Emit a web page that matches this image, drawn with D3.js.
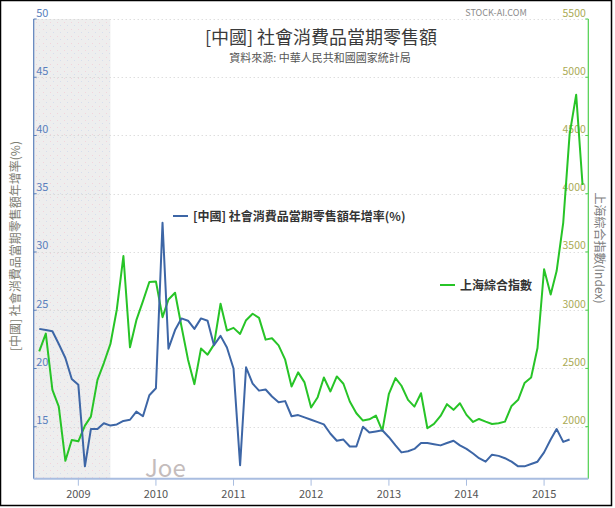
<!DOCTYPE html>
<html>
<head>
<meta charset="utf-8">
<script src="https://cdn.jsdelivr.net/npm/d3@7"></script>
<style>
  body { margin: 0; background: #fff; }
  text { font-family: "Noto Sans CJK TC", "Noto Sans", sans-serif; }
</style>
</head>
<body>
<svg id="chart"></svg>
<script>
// Monthly series, first month = 2008-07
const startMonth = new Date(2008, 6, 1);

// [中國] 社會消費品當期零售額年增率(%), 2008-07 .. 2015-05
const retailGrowth = [
  23.4, 23.3, 23.2, 22.1, 20.9, 19.1,
  18.6, 11.6, 14.8, 14.8, 15.3, 15.1, 15.2, 15.5, 15.6, 16.3, 15.9, 17.7,
  18.3, 32.5, 21.7, 23.3, 24.3, 24.1, 23.4, 24.3, 24.1, 22.0, 22.8, 21.8,
  20.0, 11.7, 20.1, 18.7, 18.1, 18.2, 17.6, 17.1, 17.2, 15.9, 16.0, 15.8,
  15.6, 15.4, 15.2, 14.4, 13.8, 13.9, 13.3, 13.3, 15.0, 14.5, 14.6, 14.7,
  14.1, 13.4, 12.8, 12.9, 13.1, 13.6, 13.6, 13.5, 13.4, 13.6, 13.8, 13.4,
  13.1, 12.7, 12.3, 12.0, 12.6, 12.5, 12.3, 12.0, 11.6, 11.6, 11.8, 12.0,
  12.8, 13.9, 14.8, 13.7, 13.9
];

// 上海綜合指數, 2008-07 .. 2015-07
const shanghaiIndex = [
  2647, 2799, 2316, 2172, 1707, 1885,
  1874, 2009, 2086, 2402, 2546, 2710, 3006, 3465, 2681, 2914, 3078, 3242,
  3247, 2940, 3092, 3150, 2862, 2575, 2365, 2670, 2618, 2704, 3055, 2825,
  2848, 2796, 2914, 2969, 2934, 2747, 2759, 2698, 2575, 2345, 2466, 2380,
  2164, 2253, 2422, 2302, 2431, 2368, 2216, 2115, 2052, 2063, 2095, 1963,
  2282, 2417, 2351, 2230, 2172, 2287, 1986, 2023, 2092, 2193, 2144, 2201,
  2101, 2040, 2066, 2043, 2023, 2029, 2043, 2178, 2230, 2374, 2422, 2675,
  3351, 3135, 3336, 3750, 4510, 4850, 4075
];

const leftTicks = [15, 20, 25, 30, 35, 40, 45, 50];
const rightTicks = [2000, 2500, 3000, 3500, 4000, 4500, 5000, 5500];
const yearTicks = [2009, 2010, 2011, 2012, 2013, 2014, 2015];

const titleText = "[中國] 社會消費品當期零售額";
const subtitleText = "資料來源: 中華人民共和國國家統計局";
const leftName = "[中國] 社會消費品當期零售額年增率(%)";
const rightName = "上海綜合指數";
const rightAxisTitle = "上海綜合指數(Index)";

const W = 615, H = 508;
const plot = { left: 33.7, right: 588.3, top: 19, bottom: 478.7 };
const blue = "#3d66a6", green = "#27c427";

const svg = d3.select("#chart").attr("width", W).attr("height", H);

const x = d3.scaleTime()
  .domain([new Date(2008, 5, 5), new Date(2015, 6, 28)])
  .range([plot.left, plot.right]);
const yL = d3.scaleLinear().domain([10.54, 50]).range([plot.bottom, plot.top]);
const yR = d3.scaleLinear().domain([1553, 5500]).range([plot.bottom, plot.top]);

const monthDate = (i) => d3.timeMonth.offset(startMonth, i);

// shaded band pattern
const defs = svg.append("defs");
const pat = defs.append("pattern")
  .attr("id", "dots").attr("patternUnits", "userSpaceOnUse")
  .attr("width", 7).attr("height", 7);
pat.append("rect").attr("width", 7).attr("height", 7).attr("fill", "#eeeeee");
pat.append("rect").attr("x", 1).attr("y", 1).attr("width", 1).attr("height", 1).attr("fill", "#f2d4dc");
pat.append("rect").attr("x", 4).attr("y", 4).attr("width", 1).attr("height", 1).attr("fill", "#d6deee");

svg.append("rect")
  .attr("x", plot.left)
  .attr("y", plot.top)
  .attr("width", x(new Date(2009, 5, 1)) - plot.left)
  .attr("height", plot.bottom - plot.top)
  .attr("fill", "url(#dots)");

// gridlines
svg.append("g")
  .selectAll("line")
  .data(leftTicks)
  .join("line")
  .attr("x1", plot.left).attr("x2", plot.right)
  .attr("y1", (d) => Math.round(yL(d)) + 0.5)
  .attr("y2", (d) => Math.round(yL(d)) + 0.5)
  .attr("stroke", "#cfcfcf")
  .attr("stroke-dasharray", "1,3");

// title
svg.append("text")
  .attr("x", 321).attr("y", 44)
  .attr("text-anchor", "middle")
  .attr("font-size", 18).attr("fill", "#3a3a3a")
  .text(titleText);
svg.append("text")
  .attr("x", 320).attr("y", 62)
  .attr("text-anchor", "middle")
  .attr("font-size", 11).attr("fill", "#555")
  .text(subtitleText);
svg.append("text")
  .attr("x", 496).attr("y", 16)
  .attr("text-anchor", "middle")
  .attr("font-size", 9).attr("fill", "#8a8a8a")
  .text("STOCK-AI.COM");

// watermark
svg.append("text")
  .attr("x", 145).attr("y", 477)
  .attr("font-size", 24).attr("fill", "#c4bcbc")
  .text("Joe");

// left axis
svg.append("line")
  .attr("x1", plot.left).attr("x2", plot.left)
  .attr("y1", plot.top).attr("y2", plot.bottom)
  .attr("stroke", "#5b80bb").attr("stroke-width", 1.2);
const gL = svg.append("g").selectAll("g").data(leftTicks).join("g")
  .attr("transform", (d) => `translate(${plot.left},${yL(d)})`);
gL.append("line").attr("x1", 0).attr("x2", 3).attr("stroke", "#5b80bb");
gL.append("text")
  .attr("x", 2.5).attr("y", -2.5)
  .attr("font-size", 11).attr("fill", "#5a7fbd")
  .text((d) => d);

// right axis
svg.append("line")
  .attr("x1", plot.right).attr("x2", plot.right)
  .attr("y1", plot.top).attr("y2", plot.bottom)
  .attr("stroke", "#4cd04c").attr("stroke-width", 1.2);
const gR = svg.append("g").selectAll("g").data(rightTicks).join("g")
  .attr("transform", (d) => `translate(${plot.right},${yR(d)})`);
gR.append("line").attr("x1", -3).attr("x2", 0).attr("stroke", "#4cd04c");
gR.append("text")
  .attr("x", -2.5).attr("y", -2.5)
  .attr("text-anchor", "end")
  .attr("font-size", 10.5).attr("fill", "#aaaa55")
  .text((d) => d);

// bottom axis
const gX = svg.append("g");
gX.append("line")
  .attr("x1", plot.left).attr("x2", plot.right)
  .attr("y1", plot.bottom).attr("y2", plot.bottom)
  .attr("stroke", "#a9bde0").attr("stroke-width", 2);
const xt = gX.selectAll("g").data(yearTicks).join("g")
  .attr("transform", (d) => `translate(${x(new Date(d, 0, 1))},${plot.bottom})`);
xt.append("line").attr("y1", 0).attr("y2", 7).attr("stroke", "#a9bde0");
xt.append("text")
  .attr("y", 19.5)
  .attr("text-anchor", "middle")
  .attr("font-size", 11).attr("fill", "#555")
  .text((d) => d);

// axis titles
svg.append("text")
  .attr("transform", "translate(20,246) rotate(-90)")
  .attr("text-anchor", "middle")
  .attr("font-size", 12).attr("fill", "#7d7d72")
  .text(leftName);
svg.append("text")
  .attr("transform", "translate(595,248) rotate(90)")
  .attr("text-anchor", "middle")
  .attr("font-size", 12).attr("fill", "#7d7d7d")
  .text(rightAxisTitle);

// series
const lineL = d3.line().x((d, i) => x(monthDate(i))).y((d) => yL(d));
const lineR = d3.line().x((d, i) => x(monthDate(i))).y((d) => yR(d));

svg.append("path")
  .datum(shanghaiIndex)
  .attr("d", lineR)
  .attr("fill", "none").attr("stroke", green).attr("stroke-width", 2)
  .attr("stroke-linejoin", "round");
svg.append("path")
  .datum(retailGrowth)
  .attr("d", lineL)
  .attr("fill", "none").attr("stroke", blue).attr("stroke-width", 2)
  .attr("stroke-linejoin", "round");

// series labels
const labels = [
  { name: leftName, color: blue, x: 173, y: 216 },
  { name: rightName, color: green, x: 440, y: 285 }
];
const lg = svg.append("g").selectAll("g").data(labels).join("g")
  .attr("transform", (d) => `translate(${d.x},${d.y})`);
lg.append("line").attr("x1", 0).attr("x2", 15)
  .attr("stroke", (d) => d.color).attr("stroke-width", 2);
lg.append("text")
  .attr("x", 20).attr("y", 4.5)
  .attr("font-size", 12).attr("font-weight", "bold").attr("fill", "#333")
  .text((d) => d.name);

// frame
svg.append("rect")
  .attr("x", 0.5).attr("y", 0.5)
  .attr("width", 611).attr("height", 505)
  .attr("fill", "none").attr("stroke", "#000").attr("stroke-width", 1.5);
</script>
</body>
</html>
